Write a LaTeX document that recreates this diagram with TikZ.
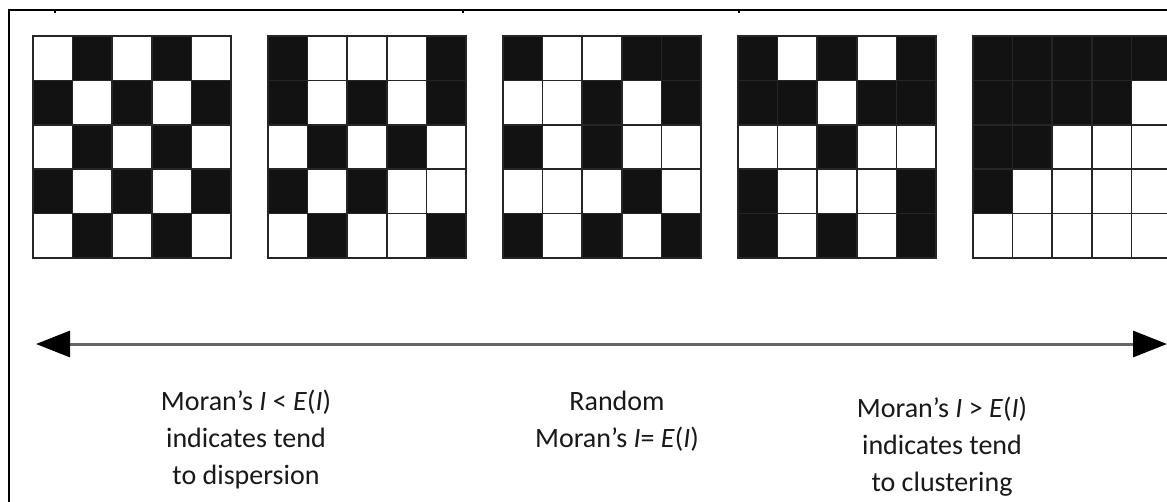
\documentclass[tikz,border=0pt]{standalone}
\usepackage{fontspec}
\setmainfont{Carlito}
\usetikzlibrary{arrows.meta}
\tikzset{
  cellbox/.style={draw=black!85, line width=1.6pt},
  framerule/.style={draw=black, line width=1.4pt},
  lbl/.style={font=\fontsize{28}{37}\selectfont, align=center, text=black!90, inner sep=0pt},
  axisline/.style={draw=black!60, line width=3pt, {Triangle[length=34pt,width=26pt,color=black]}-{Triangle[length=34pt,width=26pt,color=black]}}
}
\newcommand\moranGrid[2]{%
  \foreach \v [count=\i from 0] in {#2} {
    \pgfmathtruncatemacro\cc{mod(\i,5)}
    \pgfmathtruncatemacro\rr{div(\i,5)}
    \pgfmathsetmacro\xa{#1+\cc*39.6}
    \pgfmathsetmacro\ya{36+\rr*44.4}
    \ifnum\v=1 \def\fc{black!93}\else\def\fc{white}\fi
    \draw[cellbox, fill=\fc] (\xa,\ya) rectangle ++(39.6,44.4);
  }%
}
\begin{document}
\begin{tikzpicture}[x=1pt, y=-1pt]
\useasboundingbox (0,0) rectangle (1167,501);
\clip (0,0) rectangle (1167,501);
\fill[white] (0,0) rectangle (1167,501);
% frame
\coordinate (fbl) at (9,505);
\coordinate (ftl) at (9,10);
\coordinate (ftr) at (1170,10);
\draw[framerule] (fbl) -- (ftl) -- (ftr);
\foreach \tx in {55,463,739} {\draw[line width=1.2pt] (\tx,10) -- (\tx,13);}
% grids
\moranGrid{33}{0,1,0,1,0, 1,0,1,0,1, 0,1,0,1,0, 1,0,1,0,1, 0,1,0,1,0}
\moranGrid{268}{1,0,0,0,1, 1,0,1,0,1, 0,1,0,1,0, 1,0,1,0,0, 0,1,0,0,1}
\moranGrid{503}{1,0,0,1,1, 0,0,1,0,1, 1,0,1,0,0, 0,0,0,1,0, 1,0,1,0,1}
\moranGrid{738}{1,0,1,0,1, 1,1,0,1,1, 0,0,1,0,0, 1,0,0,0,1, 1,0,1,0,1}
\moranGrid{973}{1,1,1,1,1, 1,1,1,1,0, 1,1,0,0,0, 1,0,0,0,0, 0,0,0,0,0}
% axis
\coordinate (aL) at (36,344);
\coordinate (aR) at (1167,344);
\draw[axisline] (aL) -- (aR);
% labels
\node[lbl] (neg) at (246,440) {Moran’s \textit{I} < \textit{E}(\textit{I})\\indicates tend\\to dispersion};
\node[lbl] (rnd) at (617,421) {Random\\Moran’s \textit{I}= \textit{E}(\textit{I})};
\node[lbl] (pos) at (942,447) {Moran’s \textit{I} > \textit{E}(\textit{I})\\indicates tend\\to clustering};
\end{tikzpicture}
\end{document}
